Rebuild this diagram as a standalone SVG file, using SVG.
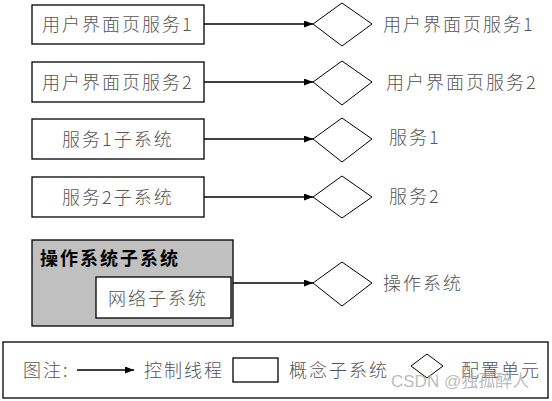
<svg xmlns="http://www.w3.org/2000/svg" width="552" height="401" viewBox="0 0 552 401">
<style>
.box{fill:#fff;stroke:#000;stroke-width:1.3}
.gbox{fill:#c0c0c0;stroke:#000;stroke-width:1.3}
.dia{fill:#fff;stroke:#000;stroke-width:1}
.t{font-family:"Noto Sans CJK SC","Liberation Serif",serif;font-size:18px;fill:#555;letter-spacing:2px;font-weight:300}
.tb{font-family:"Noto Sans CJK SC","Liberation Sans",sans-serif;font-size:18px;fill:#000;letter-spacing:2px;font-weight:bold}
.ln{stroke:#000;stroke-width:1.3;fill:none;marker-end:url(#ah)}
.wm{font-family:"Liberation Sans","Noto Sans CJK SC",sans-serif;font-size:17px;fill:#aaa;fill-opacity:0.8}
</style>
<defs>
<marker id="ah" markerWidth="9" markerHeight="7" refX="9" refY="3.5" orient="auto" markerUnits="userSpaceOnUse">
<path d="M0,0 L9,3.5 L0,7 Z" fill="#000"/>
</marker>
</defs>
<rect width="552" height="401" fill="#fff"/>
<g id="connectors">
<line class="ln" x1="204" y1="24" x2="313" y2="24"/>
<line class="ln" x1="204" y1="82" x2="313" y2="82"/>
<line class="ln" x1="204" y1="139" x2="313" y2="139"/>
<line class="ln" x1="204" y1="197" x2="313" y2="197"/>
<line class="ln" x1="233" y1="283" x2="313" y2="283"/>
</g>
<g id="n1"><rect class="box" x="32" y="5" width="172" height="39"/><text class="t" x="42" y="31">用户界面页服务1</text></g>
<g id="n2"><rect class="box" x="32" y="62" width="172" height="40"/><text class="t" x="42" y="89">用户界面页服务2</text></g>
<g id="n3"><rect class="box" x="32" y="119" width="172" height="40"/><text class="t" x="62" y="146">服务1子系统</text></g>
<g id="n4"><rect class="box" x="32" y="177" width="172" height="40"/><text class="t" x="62" y="204">服务2子系统</text></g>
<g id="n5"><rect class="gbox" x="32" y="240" width="201" height="86"/><text class="tb" x="40" y="265">操作系统子系统</text></g>
<g id="n6"><rect class="box" x="96" y="277" width="135" height="41"/><text class="t" x="108" y="305">网络子系统</text></g>
<g id="d1"><polygon class="dia" points="313,24 342,3 372,24 342,46"/><text class="t" x="383" y="31">用户界面页服务1</text></g>
<g id="d2"><polygon class="dia" points="313,82 342,61 372,82 342,105"/><text class="t" x="386" y="89">用户界面页服务2</text></g>
<g id="d3"><polygon class="dia" points="313,139 342,118 372,139 342,162"/><text class="t" x="389" y="144">服务1</text></g>
<g id="d4"><polygon class="dia" points="313,197 342,176 372,197 342,218"/><text class="t" x="389" y="203">服务2</text></g>
<g id="d5"><polygon class="dia" points="313,283 342,262 372,283 342,306"/><text class="t" x="383" y="290">操作系统</text></g>
<g id="legend">
<rect class="box" x="3" y="342" width="545" height="56"/>
<text class="t" x="23" y="377">图注:</text>
<line class="ln" x1="77" y1="370" x2="134" y2="370"/>
<text class="t" x="144" y="377">控制线程</text>
<rect class="box" x="233" y="358" width="45" height="24"/>
<text class="t" x="289" y="377">概念子系统</text>
<polygon class="dia" points="411,366 427,354 443,366 427,378"/>
<text class="t" x="461" y="377">配置单元</text>
</g>
<text class="wm" x="391" y="387">CSDN @独孤醉人</text>
</svg>
